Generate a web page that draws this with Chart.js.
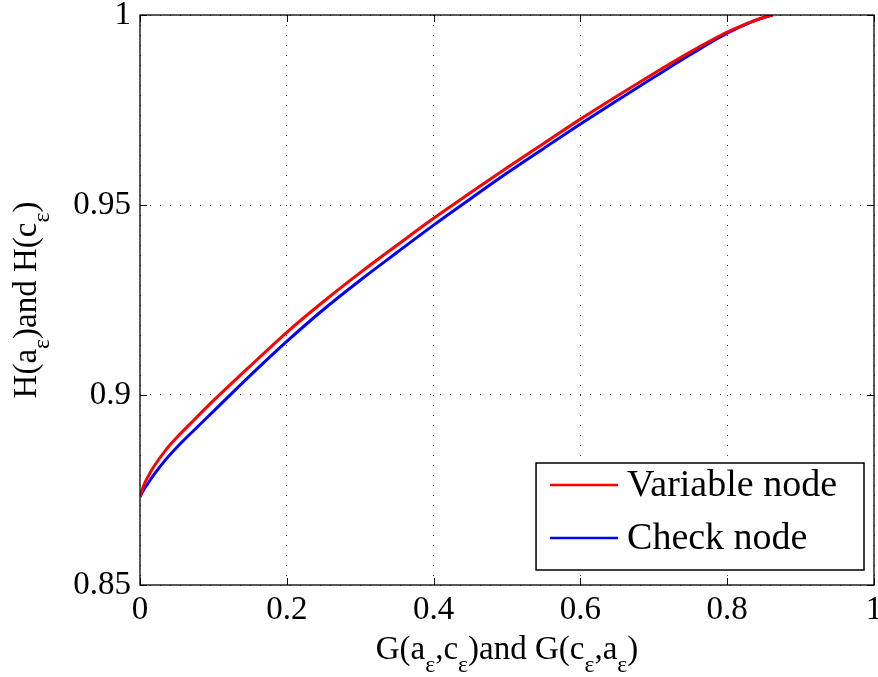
<!DOCTYPE html>
<html>
<head>
<meta charset="utf-8">
<script src="https://cdn.jsdelivr.net/npm/chart.js@4.4.1/dist/chart.umd.min.js"></script>
<style>
  html, body { margin: 0; padding: 0; background: #fff; }
  canvas { display: block; }
  #fontprobe { font-family: "Liberation Serif"; position: absolute; left: -9999px; }
</style>
</head>
<body>
<span id="fontprobe">0.95 Variable node</span>
<canvas id="chart" width="878" height="677"></canvas>
<script>
// G(a,c) values along the curves
var gValues      = [0, 0.005, 0.01, 0.02, 0.035, 0.05, 0.075, 0.1, 0.15, 0.2, 0.25, 0.3, 0.35, 0.4, 0.45, 0.5, 0.55, 0.6, 0.65, 0.7, 0.75, 0.8, 0.83, 0.85, 0.862];
var variableNode = [0.8732, 0.8762, 0.8782, 0.8815, 0.8855, 0.8888, 0.8937, 0.8985, 0.9076, 0.9165, 0.9246, 0.9322, 0.9394, 0.9465, 0.9532, 0.9598, 0.9662, 0.9726, 0.9787, 0.9846, 0.9903, 0.9955, 0.9980, 0.9994, 1.0];
var checkNode    = [0.8732, 0.8750, 0.8765, 0.8793, 0.8830, 0.8862, 0.8910, 0.8957, 0.9051, 0.9141, 0.9225, 0.9302, 0.9375, 0.9447, 0.9516, 0.9584, 0.9649, 0.9713, 0.9775, 0.9836, 0.9896, 0.9952, 0.9979, 0.9993, 1.0];

var seriesLabels = ['Variable node', 'Check node'];
var seriesColors = ['#ff0000', '#0000ff'];
var xTicks = [0, 0.2, 0.4, 0.6, 0.8, 1];
var yTicks = [0.85, 0.9, 0.95, 1];

// axis titles as [text, isSubscript] pieces
var xTitle = [['G(a', false], ['\u03b5', true], [',c', false], ['\u03b5', true], [')and G(c', false], ['\u03b5', true], [',a', false], ['\u03b5', true], [')', false]];
var yTitle = [['H(a', false], ['\u03b5', true], [')and H(c', false], ['\u03b5', true], [')', false]];

var FONT = "'Liberation Serif', 'Times New Roman', 'DejaVu Serif', serif";

function toPoints(ys) {
  return gValues.map(function (x, i) { return { x: x, y: ys[i] }; });
}

function richWidth(ctx, parts, size) {
  var w = 0;
  parts.forEach(function (p) {
    ctx.font = (p[1] ? size * 0.72 : size) + 'px ' + FONT;
    w += ctx.measureText(p[0]).width;
  });
  return w;
}

function drawRich(ctx, parts, size) {
  var x = -richWidth(ctx, parts, size) / 2;
  parts.forEach(function (p) {
    ctx.font = (p[1] ? size * 0.72 : size) + 'px ' + FONT;
    ctx.fillText(p[0], x, p[1] ? size * 0.4 : 0);
    x += ctx.measureText(p[0]).width;
  });
}

var framePlugin = {
  id: 'frame',
  afterDatasetsDraw: function (chart) {
    var ctx = chart.ctx, ca = chart.chartArea;
    var xs = chart.scales.x, ys = chart.scales.y;
    ctx.save();
    ctx.strokeStyle = '#000';
    ctx.lineWidth = 1.3;
    ctx.strokeRect(ca.left, ca.top, ca.right - ca.left, ca.bottom - ca.top);

    // inward tick marks on all four sides
    ctx.lineWidth = 1;
    var len = 7;
    ctx.beginPath();
    xTicks.forEach(function (v) {
      var px = Math.round(xs.getPixelForValue(v)) + 0.5;
      ctx.moveTo(px, ca.bottom); ctx.lineTo(px, ca.bottom - len);
      ctx.moveTo(px, ca.top); ctx.lineTo(px, ca.top + len);
    });
    yTicks.forEach(function (v) {
      var py = Math.round(ys.getPixelForValue(v)) + 0.5;
      ctx.moveTo(ca.left, py); ctx.lineTo(ca.left + len, py);
      ctx.moveTo(ca.right, py); ctx.lineTo(ca.right - len, py);
    });
    ctx.stroke();

    // axis titles
    ctx.fillStyle = '#000';
    ctx.textBaseline = 'alphabetic';
    ctx.textAlign = 'left';
    ctx.save();
    ctx.translate((ca.left + ca.right) / 2, 659);
    drawRich(ctx, xTitle, 33);
    ctx.restore();
    ctx.save();
    ctx.translate(36, (ca.top + ca.bottom) / 2);
    ctx.rotate(-Math.PI / 2);
    drawRich(ctx, yTitle, 33);
    ctx.restore();

    // legend box in the lower right corner
    var fs = 38;
    ctx.font = fs + 'px ' + FONT;
    var tw = Math.max.apply(null, seriesLabels.map(function (s) { return ctx.measureText(s).width; }));
    var boxW = 14 + 68 + 9 + tw + 27;
    var boxH = 107;
    var bx = ca.right - 10 - boxW;
    var by = ca.bottom - 15 - boxH;
    ctx.fillStyle = '#fff';
    ctx.fillRect(bx, by, boxW, boxH);
    ctx.lineWidth = 1.5;
    ctx.strokeStyle = '#000';
    ctx.strokeRect(bx, by, boxW, boxH);
    ctx.textBaseline = 'middle';
    seriesLabels.forEach(function (s, i) {
      var cy = by + 22 + i * 53;
      ctx.strokeStyle = seriesColors[i];
      ctx.lineWidth = 2.5;
      ctx.beginPath();
      ctx.moveTo(bx + 14, cy);
      ctx.lineTo(bx + 82, cy);
      ctx.stroke();
      ctx.fillStyle = '#000';
      ctx.fillText(s, bx + 91, cy + 1);
    });
    ctx.restore();
  }
};

function drawChart() {
  new Chart(document.getElementById('chart').getContext('2d'), {
    type: 'line',
    data: {
      datasets: [
        { label: seriesLabels[0], data: toPoints(variableNode), borderColor: seriesColors[0], borderWidth: 3, pointRadius: 0, cubicInterpolationMode: 'monotone', fill: false },
        { label: seriesLabels[1], data: toPoints(checkNode), borderColor: seriesColors[1], borderWidth: 3, pointRadius: 0, cubicInterpolationMode: 'monotone', fill: false }
      ]
    },
    options: {
      responsive: false,
      animation: false,
      layout: { padding: { top: 15, right: 4, left: 0, bottom: 0 } },
      plugins: { legend: { display: false }, tooltip: { enabled: false } },
      scales: {
        x: {
          type: 'linear', min: 0, max: 1,
          afterBuildTicks: function (scale) { scale.ticks = xTicks.map(function (v) { return { value: v }; }); },
          afterFit: function (scale) { scale.height = 92; scale.paddingLeft = 0; scale.paddingRight = 0; },
          grid: { color: 'rgba(0,0,0,0.75)', lineWidth: 1, drawTicks: false },
          border: { display: false, dash: [1, 9] },
          ticks: { color: '#000', padding: 6, maxRotation: 0, font: { family: FONT, size: 33 }, callback: function (v) { return String(v); } }
        },
        y: {
          type: 'linear', min: 0.85, max: 1,
          afterBuildTicks: function (scale) { scale.ticks = yTicks.map(function (v) { return { value: v }; }); },
          afterFit: function (scale) { scale.width = 140; scale.paddingTop = 0; scale.paddingBottom = 0; },
          grid: { color: 'rgba(0,0,0,0.75)', lineWidth: 1, drawTicks: false },
          border: { display: false, dash: [1, 9] },
          ticks: { color: '#000', padding: 9, font: { family: FONT, size: 33 }, callback: function (v) { return String(v); } }
        }
      }
    },
    plugins: [framePlugin]
  });
}

if (document.fonts && document.fonts.load) {
  document.fonts.load("33px 'Liberation Serif'").then(drawChart, drawChart);
} else {
  drawChart();
}
</script>
</body>
</html>
